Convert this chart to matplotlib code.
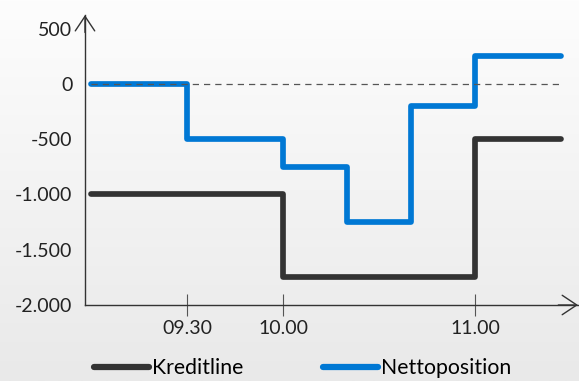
import numpy as np
import matplotlib
matplotlib.use("Agg")
import matplotlib.pyplot as plt
from matplotlib.lines import Line2D

plt.rcParams['font.family'] = ['Lato', 'DejaVu Sans']

# Time in minutes after 09:00
kredit_t = [0, 60, 120, 147]
kredit_v = [-1000, -1750, -500, -500]
netto_t = [0, 30, 60, 80, 100, 120, 147]
netto_v = [0, -500, -750, -1250, -200, 250, 250]

xtick_pos = [30, 60, 120]
xtick_labels = ["09.30", "10.00", "11.00"]
ytick_pos = [500, 0, -500, -1000, -1500, -2000]
ytick_labels = ["500", "0", "-500", "-1.000", "-1.500", "-2.000"]

dark = "#333333"
blue = "#0078d4"

fig = plt.figure(figsize=(5.79, 3.81), dpi=100)

# soft vertical background gradient
bg = fig.add_axes([0, 0, 1, 1], zorder=-10)
grad = np.linspace(1.0, 0.0, 256).reshape(-1, 1)
bg.imshow(grad, aspect='auto', cmap=matplotlib.colors.LinearSegmentedColormap.from_list(
    "bg", ["#e9e9e9", "#fdfdfd"]), extent=[0, 1, 0, 1])
bg.axis('off')

ax = fig.add_axes([0.1468, 0.1995, 0.8515, 0.761])
ax.set_facecolor('none')
ax.set_xlim(-1.9, 152.2)
ax.set_ylim(-2000, 624)

ax.plot(kredit_t, kredit_v, drawstyle='steps-post', color=dark, lw=4.1,
        solid_joinstyle='round', solid_capstyle='round', label='Kreditline', zorder=3)
ax.plot(netto_t, netto_v, drawstyle='steps-post', color=blue, lw=4.1,
        solid_joinstyle='round', solid_capstyle='round', label='Nettoposition', zorder=3)
ax.plot([0, 147], [0, 0], color="#555555", lw=0.9, ls=(0, (5, 4)), zorder=4)

for s in ['top', 'right']:
    ax.spines[s].set_visible(False)
for s in ['left', 'bottom']:
    ax.spines[s].set_color(dark)
    ax.spines[s].set_linewidth(1.0)

ax.set_xticks(xtick_pos)
ax.set_xticklabels(xtick_labels)
ax.set_yticks(ytick_pos)
ax.set_yticklabels(ytick_labels)
ax.tick_params(axis='x', direction='inout', length=16, width=0.8, color='#555555',
               labelsize=14, pad=3, labelcolor='#222222')
ax.tick_params(axis='y', length=0, labelsize=14, pad=9, labelcolor='#222222')

# open arrowheads at the ends of both axes
ax.annotate('', xy=(0, 1.0), xytext=(0, 0.94), xycoords='axes fraction',
            arrowprops=dict(arrowstyle='->,head_length=1.05,head_width=0.7',
                            color=dark, lw=1.0, shrinkA=0, shrinkB=0))
ax.annotate('', xy=(1.0, 0), xytext=(0.96, 0), xycoords='axes fraction',
            arrowprops=dict(arrowstyle='->,head_length=1.05,head_width=0.7',
                            color=dark, lw=1.0, shrinkA=0, shrinkB=0))

handles = [Line2D([], [], color=dark, lw=4.5, solid_capstyle='round'),
           Line2D([], [], color=blue, lw=4.5, solid_capstyle='round')]
fig.legend(handles, ['Kreditline', 'Nettoposition'], loc='center',
           bbox_to_anchor=(0.523, 0.033), ncol=2, frameon=False, fontsize=15.3,
           handlelength=2.6, handletextpad=0.14, columnspacing=3.75,
           borderpad=0.0, borderaxespad=0.0)

fig.savefig("out.png", dpi=100)
